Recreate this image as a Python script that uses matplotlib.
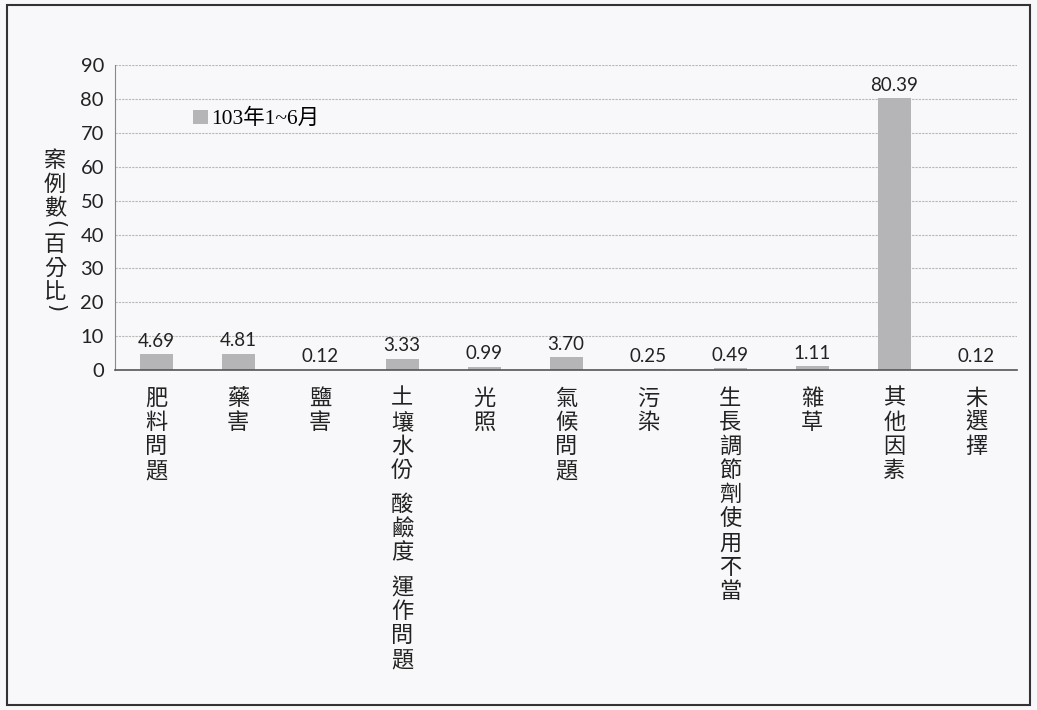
import matplotlib.pyplot as plt
from matplotlib.patches import Rectangle
from matplotlib.transforms import ScaledTranslation

plt.rcParams['font.family'] = ['Noto Sans CJK TC', 'DejaVu Sans']

categories = ['肥料問題', '藥害', '鹽害', '土壤水份 酸鹼度 運作問題', '光照', '氣候問題',
              '污染', '生長調節劑使用不當', '雜草', '其他因素', '未選擇']
values = [4.69, 4.81, 0.12, 3.33, 0.99, 3.70, 0.25, 0.49, 1.11, 80.39, 0.12]
series_name = '103年1~6月'
y_ticks = [0, 10, 20, 30, 40, 50, 60, 70, 80, 90]
y_label = '案例數(百分比)'

BG = '#f8f8fa'
BAR = '#b5b5b8'
TXT = '#222222'
NUM_FONT = ['Lato', 'DejaVu Sans']

fig = plt.figure(figsize=(10.37, 7.10), dpi=100, facecolor=BG)
ax = fig.add_axes([0.111, 0.479, 0.870, 0.429], facecolor=BG)

x = list(range(len(categories)))
ax.bar(x, values, width=0.4, color=BAR, label=series_name, zorder=2)

# value labels above each bar
for xi, v in zip(x, values):
    ax.annotate(f'{v:.2f}', (xi, v), xytext=(0, 3), textcoords='offset points',
                ha='center', va='bottom', fontsize=13.5, color=TXT, family=NUM_FONT)

ax.set_xlim(-0.5, len(categories) - 0.5)
ax.set_ylim(0, 90)
ax.set_yticks(y_ticks)
ax.set_yticklabels([str(t) for t in y_ticks], fontsize=14.5, color=TXT, family=NUM_FONT)
ax.tick_params(axis='y', length=0, pad=8)
ax.set_xticks([])

ax.grid(axis='y', color='#b8b8b8', linestyle=(0, (2, 1)), linewidth=0.8, zorder=0)
for side in ['top', 'right']:
    ax.spines[side].set_visible(False)
ax.spines['left'].set_color('#888888')
ax.spines['bottom'].set_color('#555555')
ax.spines['bottom'].set_linewidth(1.2)

# category labels written top-to-bottom, one character per line
step = 17.4
for xi, label in zip(x, categories):
    off = -12
    for ch in label:
        if ch == ' ':
            off -= step * 0.42
            continue
        ax.annotate(ch, (xi, 0), xycoords=('data', 'axes fraction'), xytext=(0, off),
                    textcoords='offset points', ha='center', va='top', fontsize=16,
                    color=TXT)
        off -= step

# vertical y-axis title; brackets are turned to sit in the column
off = 0
for ch in y_label:
    tr = fig.transFigure + ScaledTranslation(0, off / 72, fig.dpi_scale_trans)
    if ch in '()':
        fig.text(0.053, 0.79, ch, ha='center', va='top', fontsize=15, color=TXT,
                 rotation=-90, family=['DejaVu Sans'], transform=tr)
        off -= 9.5
        continue
    fig.text(0.053, 0.79, ch, ha='center', va='top', fontsize=16, color=TXT, transform=tr)
    off -= 17

ax.legend(loc='upper left', bbox_to_anchor=(0.077, 0.885), frameon=False, handlelength=0.7,
          handleheight=0.65, handletextpad=0.15, borderaxespad=0,
          prop={'family': ['Liberation Serif', 'Noto Sans CJK TC'], 'size': 15.5})

# outer frame of the chart area
fig.patches.append(Rectangle((0.007, 0.007), 0.986, 0.986, transform=fig.transFigure,
                             fill=False, edgecolor='#333333', linewidth=1.5))

fig.savefig('out.png', dpi=100, facecolor=BG)
